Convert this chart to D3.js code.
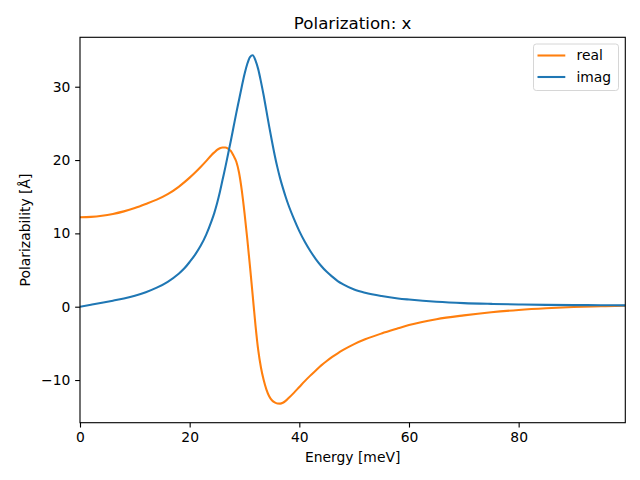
<!DOCTYPE html>
<html>
<head>
<meta charset="utf-8">
<script src="https://cdn.jsdelivr.net/npm/d3@7"></script>
<style>
  html, body { margin: 0; padding: 0; background: #fff; }
  svg { display: block; font-family: "DejaVu Sans", sans-serif; }
</style>
</head>
<body>
<svg id="chart" width="640" height="480"></svg>
<script>
// Energy grid (meV)
const energy = [0,2,4,6,8,10,12,14,16,18,19,20,21,22,23,24,24.5,25,25.5,26,26.5,27,27.5,28,28.5,29,29.5,30,30.5,31,31.5,32,32.5,33,33.5,34,34.5,35,35.5,36,36.5,37,37.5,38,39,40,41,42,43,44,45,46,47,48,50,52,55,58,60,65,70,75,80,85,90,95,99.45];
// Real part of polarizability
const realPart = [12.2,12.25,12.4,12.65,13.0,13.45,14.0,14.6,15.35,16.35,16.95,17.6,18.3,19.05,19.85,20.7,21.05,21.38,21.6,21.7,21.7,21.55,21.25,20.6,19.8,18.3,15.9,12.8,9.3,5.5,1.5,-2.5,-5.9,-8.3,-10.0,-11.3,-12.2,-12.75,-13.05,-13.2,-13.22,-13.1,-12.85,-12.5,-11.75,-10.95,-10.15,-9.4,-8.7,-8.0,-7.4,-6.85,-6.35,-5.9,-5.1,-4.45,-3.65,-2.95,-2.5,-1.7,-1.18,-0.76,-0.45,-0.22,-0.05,0.06,0.14];
// Imaginary part of polarizability
const imagPart = [0,0.26,0.53,0.82,1.13,1.5,1.98,2.6,3.4,4.5,5.2,6.1,7.1,8.3,9.8,11.7,12.8,14.1,15.6,17.3,19.0,20.8,22.6,24.5,26.4,28.2,30.0,31.7,33.1,34.05,34.3,33.6,32.4,30.7,28.8,26.7,24.6,22.6,20.7,19.0,17.5,16.2,15.0,13.9,12.0,10.3,8.85,7.6,6.5,5.55,4.75,4.1,3.5,3.05,2.35,1.9,1.45,1.13,0.98,0.68,0.49,0.38,0.3,0.25,0.22,0.2,0.18];
const xTicks = [0,20,40,60,80];
const yTicks = [-10,0,10,20,30];
const seriesNames = ["real", "imag"];
const seriesColors = ["#ff7f0e", "#1f77b4"];

const svg = d3.select("#chart");
const L = 80, R = 625.3, T = 37.3, B = 422.7;
const x = d3.scaleLinear().domain([0, 99.45]).range([L, R]);
const y = d3.scaleLinear().domain([-15.82, 36.74]).range([B, T]);
const tickLen = 4.86, pad = 4.86;

svg.append("defs").append("clipPath").attr("id", "clip")
  .append("rect").attr("x", L).attr("y", T).attr("width", R - L).attr("height", B - T);

const series = [realPart, imagPart];
const line = d3.line().x((d, i) => x(energy[i])).y(d => y(d)).curve(d3.curveMonotoneX);
const g = svg.append("g").attr("clip-path", "url(#clip)");
series.forEach((s, k) => {
  g.append("path").datum(s).attr("d", line)
    .attr("fill", "none").attr("stroke", seriesColors[k])
    .attr("stroke-width", 2.08).attr("stroke-linejoin", "round").attr("stroke-linecap", "butt");
});

// axes
const xAxis = d3.axisBottom(x).tickValues(xTicks).tickSize(tickLen).tickPadding(pad).tickFormat(d3.format("d"));
const yAxis = d3.axisLeft(y).tickValues(yTicks).tickSize(tickLen).tickPadding(pad)
  .tickFormat(d => d < 0 ? "\u2212" + Math.abs(d) : String(d));
const gx = svg.append("g").attr("transform", `translate(0,${B})`).call(xAxis);
const gy = svg.append("g").attr("transform", `translate(${L},0)`).call(yAxis);
[gx, gy].forEach(a => {
  a.select(".domain").remove();
  a.selectAll("line").attr("stroke", "#000").attr("stroke-width", 1.11);
  a.selectAll("text").attr("font-size", 13.89).attr("fill", "#000").attr("font-family", "DejaVu Sans, sans-serif");
});

// spines
svg.append("rect").attr("x", L).attr("y", T).attr("width", R - L).attr("height", B - T)
  .attr("fill", "none").attr("stroke", "#000").attr("stroke-width", 1.11);

// title & labels
svg.append("text").attr("x", (L + R) / 2).attr("y", 28.6).attr("text-anchor", "middle")
  .attr("font-size", 16.67).attr("fill", "#000").text("Polarization: x");
svg.append("text").attr("x", (L + R) / 2).attr("y", 462).attr("text-anchor", "middle")
  .attr("font-size", 13.89).attr("fill", "#000").text("Energy [meV]");
svg.append("text").attr("transform", `translate(30,${(T + B) / 2}) rotate(-90)`).attr("text-anchor", "middle")
  .attr("font-size", 13.89).attr("fill", "#000").text("Polarizability [Å]");

// legend
const lg = svg.append("g");
lg.append("rect").attr("x", 533.5).attr("y", 44).attr("width", 85).attr("height", 46.5)
  .attr("rx", 2.8).attr("fill", "#fff").attr("fill-opacity", 0.8).attr("stroke", "#d6d6d6").attr("stroke-width", 1);
seriesNames.forEach((n, k) => {
  const yy = 55.5 + k * 21.5;
  lg.append("line").attr("x1", 537.5).attr("x2", 565.3).attr("y1", yy).attr("y2", yy)
    .attr("stroke", seriesColors[k]).attr("stroke-width", 2.08);
  lg.append("text").attr("x", 576.5).attr("y", yy + 4.8).attr("font-size", 13.89).attr("fill", "#000").text(n);
});
</script>
</body>
</html>
